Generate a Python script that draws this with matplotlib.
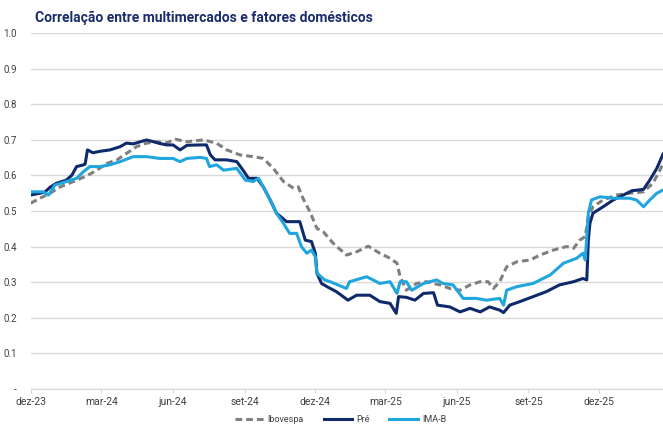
import matplotlib
matplotlib.use("Agg")
import matplotlib.pyplot as plt
import pandas as pd

plt.rcParams['font.family'] = ['Roboto', 'DejaVu Sans']

# Pré
pre_dates = ['2023-12-01', '2023-12-13', '2023-12-19', '2023-12-26', '2024-01-03', '2024-01-16',
             '2024-01-23', '2024-01-29', '2024-02-07', '2024-02-09', '2024-02-12', '2024-02-19',
             '2024-02-28', '2024-03-12', '2024-03-25', '2024-04-02', '2024-04-11', '2024-04-20',
             '2024-04-28', '2024-05-07', '2024-05-15', '2024-05-24', '2024-06-01', '2024-06-10',
             '2024-06-19', '2024-07-06', '2024-07-14', '2024-07-19', '2024-07-25', '2024-08-09',
             '2024-08-22', '2024-08-30', '2024-09-06', '2024-09-17', '2024-09-25', '2024-10-04',
             '2024-10-12', '2024-10-25', '2024-11-11', '2024-11-18', '2024-11-26', '2024-12-01',
             '2024-12-03', '2024-12-09', '2024-12-16', '2024-12-28', '2025-01-12', '2025-01-23',
             '2025-02-09', '2025-02-22', '2025-03-07', '2025-03-15', '2025-03-18', '2025-03-28',
             '2025-04-08', '2025-04-19', '2025-05-02', '2025-05-07', '2025-05-23', '2025-06-05',
             '2025-06-18', '2025-07-01', '2025-07-13', '2025-07-26', '2025-07-31', '2025-08-08',
             '2025-08-21', '2025-09-07', '2025-09-24', '2025-10-11', '2025-10-29', '2025-11-10',
             '2025-11-15', '2025-11-17', '2025-11-19', '2025-11-23', '2025-12-06', '2025-12-19',
             '2026-01-01', '2026-01-12', '2026-01-27', '2026-02-04', '2026-02-13', '2026-02-21']
pre_vals = [0.545, 0.550, 0.553, 0.567, 0.578, 0.587,
            0.601, 0.625, 0.630, 0.632, 0.672, 0.664,
            0.668, 0.672, 0.681, 0.691, 0.689, 0.695,
            0.700, 0.695, 0.690, 0.686, 0.686, 0.672,
            0.685, 0.686, 0.686, 0.658, 0.644, 0.644,
            0.639, 0.615, 0.592, 0.592, 0.568, 0.531,
            0.494, 0.470, 0.470, 0.418, 0.414, 0.381,
            0.325, 0.296, 0.287, 0.273, 0.249, 0.263,
            0.263, 0.245, 0.240, 0.212, 0.259, 0.257,
            0.249, 0.268, 0.270, 0.235, 0.230, 0.216,
            0.226, 0.216, 0.230, 0.221, 0.214, 0.235,
            0.245, 0.259, 0.273, 0.292, 0.301, 0.310,
            0.306, 0.418, 0.465, 0.494, 0.512, 0.531,
            0.545, 0.557, 0.561, 0.587, 0.620, 0.660]

# IMA-B
imab_dates = ['2023-12-01', '2023-12-17', '2023-12-24', '2024-01-01', '2024-01-16', '2024-01-29',
              '2024-02-07', '2024-02-15', '2024-02-28', '2024-03-12', '2024-03-25', '2024-04-11',
              '2024-04-28', '2024-05-15', '2024-06-01', '2024-06-10', '2024-06-19', '2024-07-06',
              '2024-07-14', '2024-07-18', '2024-07-27', '2024-08-05', '2024-08-22', '2024-09-02',
              '2024-09-12', '2024-09-19', '2024-09-25', '2024-10-04', '2024-10-12', '2024-10-21',
              '2024-10-29', '2024-11-07', '2024-11-13', '2024-11-20', '2024-11-26', '2024-12-01',
              '2024-12-03', '2024-12-13', '2024-12-20', '2025-01-10', '2025-01-14', '2025-02-05',
              '2025-02-22', '2025-03-07', '2025-03-16', '2025-03-20', '2025-03-28', '2025-04-04',
              '2025-04-19', '2025-05-06', '2025-05-14', '2025-05-27', '2025-06-09', '2025-06-26',
              '2025-07-09', '2025-07-26', '2025-07-31', '2025-08-04', '2025-08-17', '2025-09-07',
              '2025-09-29', '2025-10-16', '2025-11-02', '2025-11-10', '2025-11-13', '2025-11-17',
              '2025-11-21', '2025-12-02', '2025-12-19', '2026-01-09', '2026-01-18', '2026-01-27',
              '2026-02-04', '2026-02-13', '2026-02-21']
imab_vals = [0.554, 0.554, 0.545, 0.573, 0.583, 0.592,
             0.611, 0.625, 0.625, 0.630, 0.639, 0.653,
             0.653, 0.648, 0.648, 0.639, 0.648, 0.651,
             0.648, 0.625, 0.630, 0.615, 0.620, 0.587,
             0.583, 0.592, 0.568, 0.531, 0.494, 0.465,
             0.437, 0.437, 0.400, 0.381, 0.390, 0.371,
             0.325, 0.306, 0.301, 0.282, 0.301, 0.315,
             0.296, 0.301, 0.268, 0.301, 0.301, 0.277,
             0.296, 0.306, 0.296, 0.292, 0.254, 0.254,
             0.249, 0.254, 0.235, 0.277, 0.287, 0.296,
             0.320, 0.353, 0.367, 0.381, 0.362, 0.494,
             0.531, 0.540, 0.536, 0.536, 0.531, 0.512,
             0.531, 0.550, 0.559]

# Ibovespa
ibov_dates = ['2023-12-01', '2023-12-13', '2023-12-26', '2024-01-08', '2024-01-25', '2024-02-11',
              '2024-02-24', '2024-03-08', '2024-03-21', '2024-04-02', '2024-04-15', '2024-04-28',
              '2024-05-11', '2024-05-24', '2024-06-04', '2024-06-19', '2024-07-10', '2024-07-27',
              '2024-08-09', '2024-08-26', '2024-09-12', '2024-09-25', '2024-10-08', '2024-10-21',
              '2024-11-03', '2024-11-09', '2024-11-15', '2024-11-24', '2024-12-03', '2024-12-11',
              '2024-12-24', '2025-01-10', '2025-01-23', '2025-02-07', '2025-02-22', '2025-03-07',
              '2025-03-16', '2025-03-20', '2025-03-28', '2025-04-10', '2025-04-23', '2025-05-10',
              '2025-05-23', '2025-06-05', '2025-06-18', '2025-07-01', '2025-07-11', '2025-07-18',
              '2025-07-26', '2025-08-04', '2025-08-17', '2025-09-03', '2025-09-16', '2025-10-03',
              '2025-10-20', '2025-10-29', '2025-11-06', '2025-11-13', '2025-11-17', '2025-11-23',
              '2025-12-06', '2025-12-23', '2026-01-09', '2026-01-27', '2026-02-08', '2026-02-17',
              '2026-02-21']
ibov_vals = [0.522, 0.536, 0.550, 0.568, 0.583, 0.599,
             0.615, 0.634, 0.644, 0.662, 0.681, 0.691,
             0.695, 0.692, 0.702, 0.695, 0.700, 0.691,
             0.672, 0.658, 0.653, 0.648, 0.620, 0.583,
             0.564, 0.568, 0.536, 0.498, 0.451, 0.442,
             0.409, 0.376, 0.385, 0.401, 0.381, 0.367,
             0.353, 0.315, 0.277, 0.296, 0.301, 0.292,
             0.282, 0.277, 0.292, 0.301, 0.301, 0.282,
             0.301, 0.343, 0.357, 0.362, 0.376, 0.390,
             0.400, 0.395, 0.418, 0.428, 0.484, 0.512,
             0.531, 0.545, 0.550, 0.554, 0.578, 0.615,
             0.634]

tick_dates = ['2023-12-01', '2024-03-01', '2024-06-01', '2024-09-01', '2024-12-01',
              '2025-03-01', '2025-06-01', '2025-09-01', '2025-12-01']
tick_labels = ['dez-23', 'mar-24', 'jun-24', 'set-24', 'dez-24',
               'mar-25', 'jun-25', 'set-25', 'dez-25']
y_ticks = [0.0, 0.1, 0.2, 0.3, 0.4, 0.5, 0.6, 0.7, 0.8, 0.9, 1.0]
y_labels = ['-', '0.1', '0.2', '0.3', '0.4', '0.5', '0.6', '0.7', '0.8', '0.9', '1.0']

fig = plt.figure(figsize=(6.63, 4.28), dpi=100)
ax = fig.add_axes([0.0463, 0.092, 0.9537, 0.83])

ax.plot(pd.to_datetime(ibov_dates), ibov_vals, color='#7f7f7f', lw=2.2,
        linestyle=(0, (2.2, 1.3)), label='Ibovespa')
ax.plot(pd.to_datetime(pre_dates), pre_vals, color='#0f2a6b', lw=2.2, label='Pré')
ax.plot(pd.to_datetime(imab_dates), imab_vals, color='#1fa6df', lw=2.2, label='IMA-B')

ax.set_xlim(pd.Timestamp('2023-12-01'), pd.Timestamp('2026-02-21'))
ax.set_ylim(0, 1.0)
ax.set_yticks(y_ticks)
ax.set_yticklabels(y_labels)
ax.set_xticks(pd.to_datetime(tick_dates))
ax.set_xticklabels(tick_labels)

ax.grid(axis='y', color='#d9d9d9', lw=1)
ax.set_axisbelow(True)
for s in ['top', 'right', 'left']:
    ax.spines[s].set_visible(False)
ax.spines['bottom'].set_color('#d9d9d9')
ax.tick_params(axis='y', length=0, pad=10, labelsize=7, labelcolor='#404040')
ax.tick_params(axis='x', length=3, color='#d9d9d9', pad=3, labelsize=7.5, labelcolor='#404040')

fig.text(0.053, 0.958, 'Correlação entre multimercados e fatores domésticos',
         fontsize=10, fontweight='bold', color='#1b2c6b', va='center')

ax.legend(loc='center', bbox_to_anchor=(0.49, -0.088), ncol=3, frameon=False,
          fontsize=6.5, handlelength=3.2, columnspacing=2.2, handletextpad=0.4,
          labelcolor='#404040')

fig.savefig('out.png', dpi=100)
